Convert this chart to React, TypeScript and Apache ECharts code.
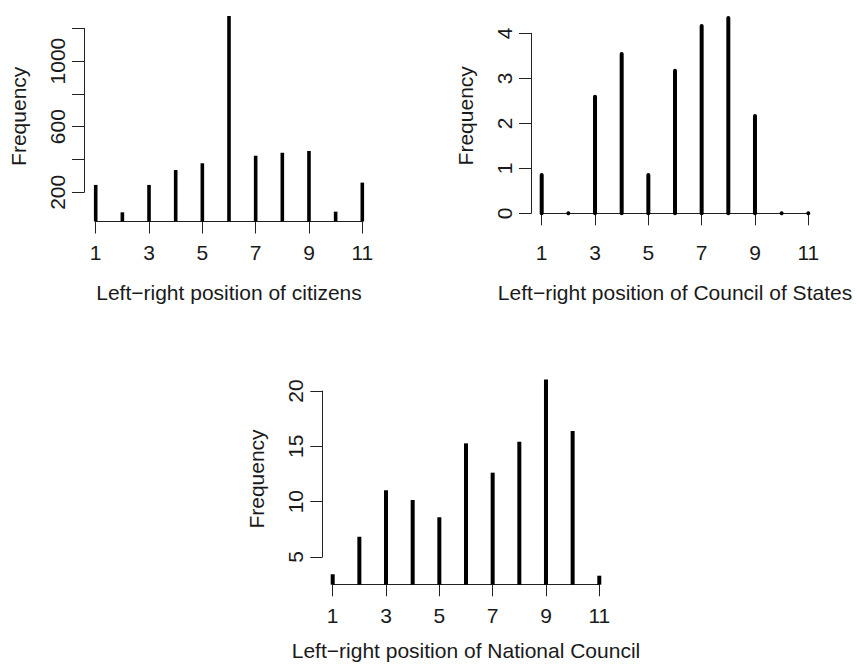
import React, { useEffect, useRef } from "react";
import * as echarts from "echarts";

// Left-right positions (x values shared by all three panels)
const positions = [1, 2, 3, 4, 5, 6, 7, 8, 9, 10, 11];

// Frequencies
const citizensFreq = [245, 78, 245, 336, 377, 1275, 423, 441, 452, 82, 259];
const councilStatesFreq = [0.85, 0, 2.59, 3.54, 0.85, 3.17, 4.16, 4.34, 2.16, 0, 0];
const nationalCouncilFreq = [3.44, 6.83, 11.03, 10.15, 8.59, 15.27, 12.62, 15.41, 21.05, 16.39, 3.31];

// Visible y tick labels (R drops overlapping ones)
const citizensYLabels = [200, 600, 1000];
const councilStatesYLabels = [0, 1, 2, 3, 4];
const nationalCouncilYLabels = [5, 10, 15, 20];

// Lower limit of each plot region (bars are drawn from 0, clipped there)
const citizensFloor = 22;
const councilStatesFloor = -0.18;
const nationalCouncilFloor = 2.5;

const xTitles = [
  "Left\u2212right position of citizens",
  "Left\u2212right position of Council of States",
  "Left\u2212right position of National Council",
];

const FONT = "'Liberation Sans', Arial, Helvetica, sans-serif";
const TEXT = "#1a1a1a";
const AXIS = "#222";

export default function App() {
  const ref = useRef<HTMLDivElement>(null);

  useEffect(() => {
    if (!ref.current) return;
    const chart = echarts.init(ref.current, undefined, { renderer: "svg" });

    const panels = [
      {
        grid: { left: 95.7, top: 28.3, width: 266.6, height: 164 },
        y: { min: 200, max: 1200, interval: 200 },
        xOffset: 29.2,
        yOffset: 11.7,
        labels: citizensYLabels,
        values: citizensFreq,
        floor: citizensFloor,
        width: 3.6,
        cap: "butt",
        namePad: [0, 12, 0, 0],
        xNameGap: 60.5,
      },
      {
        grid: { left: 541.7, top: 33.3, width: 266.6, height: 180 },
        y: { min: 0, max: 4, interval: 1 },
        xOffset: 8.4,
        yOffset: 10.7,
        labels: councilStatesYLabels,
        values: councilStatesFreq,
        floor: councilStatesFloor,
        width: 4,
        cap: "round",
        namePad: [0, 0, 0, 15],
        xNameGap: 60.5,
      },
      {
        grid: { left: 332.7, top: 391, width: 266.6, height: 166 },
        y: { min: 5, max: 20, interval: 5 },
        xOffset: 27.3,
        yOffset: 10.4,
        labels: nationalCouncilYLabels,
        values: nationalCouncilFreq,
        floor: nationalCouncilFloor,
        width: 4,
        cap: "butt",
        namePad: [0, 10, 0, 0],
        xNameGap: 56,
      },
    ];

    const grid = panels.map((p) => ({ ...p.grid, containLabel: false, outerBoundsMode: "none" }));

    const xAxis = panels.map((p, i) => ({
      type: "value",
      gridIndex: i,
      min: 1,
      max: 11,
      interval: 2,
      offset: p.xOffset,
      splitLine: { show: false },
      axisLine: { show: true, lineStyle: { color: AXIS, width: 1 } },
      axisTick: { show: true, length: 12, inside: false, lineStyle: { color: AXIS, width: 1 } },
      axisLabel: { fontSize: 21, fontFamily: FONT, color: TEXT, margin: 20.5 },
      name: xTitles[i],
      nameLocation: "middle",
      nameGap: p.xNameGap,
      nameTextStyle: { fontSize: 21, fontFamily: FONT, color: TEXT },
    }));

    const yAxis = panels.map((p, i) => ({
      type: "value",
      gridIndex: i,
      min: p.y.min,
      max: p.y.max,
      interval: p.y.interval,
      offset: p.yOffset,
      splitLine: { show: false },
      axisLine: { show: true, lineStyle: { color: AXIS, width: 1 } },
      axisTick: { show: true, length: 12, inside: false, lineStyle: { color: AXIS, width: 1 } },
      axisLabel: {
        fontSize: 21,
        fontFamily: FONT,
        color: TEXT,
        rotate: 90,
        margin: 16,
        formatter: (v: number) => (p.labels.includes(v) ? String(v) : ""),
      },
      name: "Frequency",
      nameLocation: "middle",
      nameGap: 55.5,
      nameRotate: 90,
      nameTextStyle: { fontSize: 21, fontFamily: FONT, color: TEXT, padding: p.namePad },
    }));

    const series = panels.map((p, i) => ({
      type: "custom",
      xAxisIndex: i,
      yAxisIndex: i,
      clip: false,
      data: positions.map((x, k) => [x, p.values[k]]),
      renderItem: (params: any, api: any) => {
        const x = api.value(0);
        const v = api.value(1);
        const base = Math.max(0, p.floor);
        const top = api.coord([x, v]);
        const bot = api.coord([x, base]);
        if (Math.abs(top[1] - bot[1]) < 0.5) {
          return {
            type: "circle",
            shape: { cx: top[0], cy: top[1], r: p.width / 2 },
            style: { fill: "#000" },
          };
        }
        return {
          type: "line",
          shape: { x1: bot[0], y1: bot[1], x2: top[0], y2: top[1] },
          style: { stroke: "#000", lineWidth: p.width, lineCap: p.cap },
        };
      },
    }));

    chart.setOption({
      animation: false,
      backgroundColor: "#fff",
      textStyle: { fontFamily: FONT },
      grid,
      xAxis,
      yAxis,
      series,
    } as any);

    return () => chart.dispose();
  }, []);

  return (
    <div
      ref={ref}
      style={{ position: "absolute", left: 0, top: 0, width: 857, height: 664, background: "#fff" }}
    />
  );
}
